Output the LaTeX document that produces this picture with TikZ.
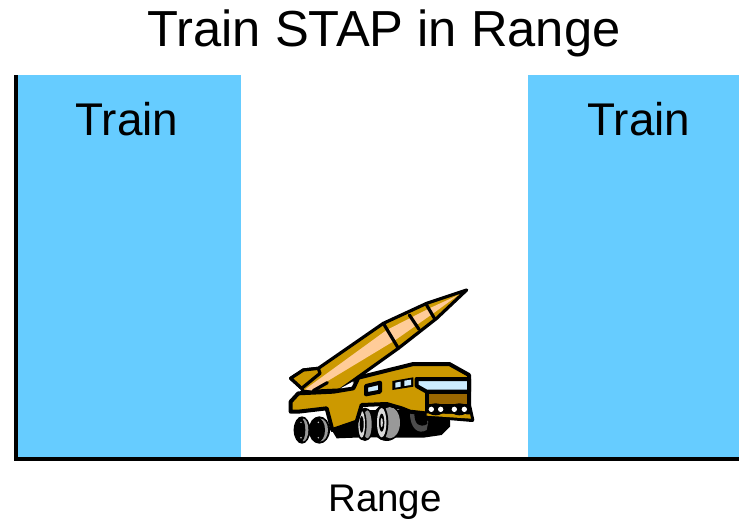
\documentclass[tikz,border=0pt]{standalone}
\usepackage{fontspec}
\setmainfont{Liberation Sans}
\definecolor{trainblue}{HTML}{66CCFF}
\definecolor{gold}{HTML}{CC9900}
\definecolor{peach}{HTML}{FFCC99}
\definecolor{glass}{HTML}{CCECFF}
\definecolor{brownb}{HTML}{996600}
\definecolor{tyre}{HTML}{999999}
\tikzset{
  lbl/.style={font=\fontsize{34.4}{38}\selectfont,text=black,inner sep=0pt,anchor=center},
  ttl/.style={font=\fontsize{38}{42}\selectfont,text=black,inner sep=0pt,anchor=center},
  axisline/.style={line width=3pt,black},
  ol/.style={draw=black,line width=2.4pt,line join=round,line cap=round}
}
\begin{document}
\begin{tikzpicture}[x=0.75pt,y=-0.75pt]
\useasboundingbox (0,0) rectangle (739,521);
\fill[white] (0,0) rectangle (739,521);
\fill[trainblue] (16,75) rectangle (241,459);
\fill[trainblue] (528,75) rectangle (739,459);
\draw[axisline] (16,75) -- (16,459) -- (739,459);
\node[ttl] (title) at (384,33) {Train STAP in Range};
\node[lbl] (t1) at (127,119) {Train};
\node[lbl] (t2) at (639,119) {Train};
\node[font=\fontsize{28.9}{32}\selectfont,inner sep=0pt] (range) at (385,502) {Range};
\begin{scope}[shift={(270,280)},x=0.25pt,y=-0.25pt]
% under shadow
\fill[black] (185,450) -- (200,475) -- (280,472) -- (460,473) -- (515,465) -- (540,440) -- (540,390) -- (185,390) -- cycle;
\fill[black!70] (420,400) .. controls (420,445) and (445,465) .. (470,450) -- (475,425) -- (440,395) -- cycle;
\fill[black] (433,400) .. controls (433,432) and (448,445) .. (472,432) -- (470,400) -- cycle;
% rear wheels
\foreach \cx/\w in {148/32,96/25}{
  \fill[black] (\cx,450) ellipse ({\w} and 41);
  \fill[tyre] (\cx+4,450) ellipse ({\w-10} and 34);
  \fill[black] (\cx-3,450) ellipse ({\w-12} and 35);
  \fill[tyre!60] (\cx-3,427) circle (2.5);
  \fill[tyre!60] (\cx-3,473) circle (2.5);
}
% mid wheels
\fill[black] (350,428) ellipse (46 and 55);
\fill[tyre] (360,428) ellipse (30 and 47);
\fill[black] (335,428) ellipse (20 and 52);
\fill[black!15] (335,428) ellipse (14 and 44);
\fill[black] (335,428) ellipse (8 and 27);
\fill[black!15] (335,428) ellipse (3.5 and 14);
\fill[black] (285,433) ellipse (27 and 50);
\fill[tyre] (292,433) ellipse (13 and 42);
\fill[black] (275,433) ellipse (15 and 47);
\fill[black!15] (275,433) ellipse (10 and 40);
\fill[black] (275,433) ellipse (6 and 25);
% missile
\path[ol,fill=gold] (590,30) -- (470,70) -- (340,130) -- (145,265) -- (100,270) -- (62,295) -- (95,325) -- (100,335) -- (210,330) -- (385,205) -- (500,115) -- cycle;
\fill[peach] (565,45) -- (478,85) -- (350,150) -- (105,328) -- (125,332) -- (372,183) -- (490,100) -- cycle;
\draw[ol,fill=gold] (145,265) -- (100,270) -- (62,295) -- (95,325) -- (150,280) -- cycle;
\draw[ol] (340,130) -- (385,205);
\draw[ol] (418,105) -- (447,148);
\draw[ol] (468,72) -- (495,118);
\draw[ol] (130,332) -- (172,308);
% cab
\path[ol,fill=gold,line width=3pt] (85,340) -- (62,365) -- (62,395) -- (85,395) -- (170,385) -- (187,450) -- (260,425) -- (275,375) -- (350,372) -- (395,385) -- (420,395) -- (465,400) -- (465,408) -- (607,420) -- (597,375) -- (597,285) -- (538,252) -- (430,252) -- (265,293) -- (250,325) -- (190,335) -- cycle;
\fill[white] (212,325) -- (250,304) -- (243,320) -- cycle;
% windows
\path[ol,fill=glass,line width=3pt] (288,318) -- (330,308) -- (330,335) -- (288,343) -- cycle;
\path[fill=black] (367,303) -- (430,292) -- (430,320) -- (367,330) -- cycle;
\fill[glass] (376,308) -- (392,305) -- (392,320) -- (376,323) -- cycle;
\fill[glass] (403,302) -- (423,299) -- (423,315) -- (403,318) -- cycle;
% front
\path[ol,fill=glass,line width=3pt] (440,297) -- (597,297) -- (597,335) -- (470,335) -- (440,318) -- cycle;
\path[ol,fill=brownb,line width=3pt] (470,337) -- (597,337) -- (597,378) -- (470,378) -- cycle;
\fill[black] (465,375) -- (600,375) -- (605,418) -- (595,410) -- (465,403) -- cycle;
\fill[gold] (470,400) -- (600,403) -- (603,416) -- (470,407) -- cycle;
\fill[black] (497,388) ellipse (27 and 18);
\fill[black] (568,388) ellipse (27 and 18);
\foreach \px in {484,512,553,583}{
  \fill[white] (\px,388) circle (8);
}
\end{scope}
\end{tikzpicture}
\end{document}
